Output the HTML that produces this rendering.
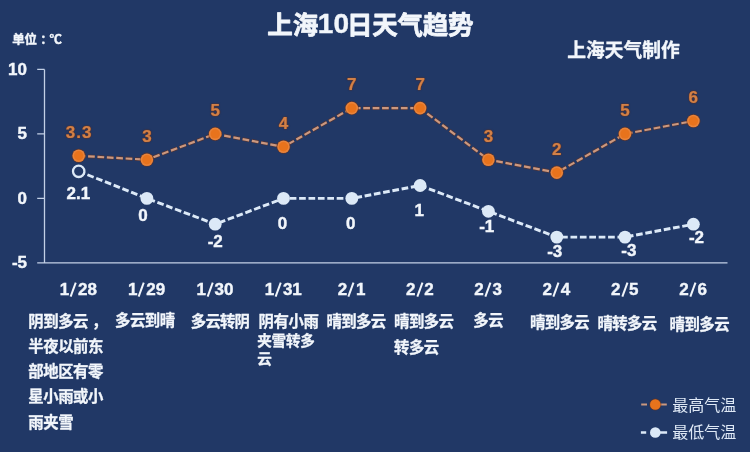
<!DOCTYPE html>
<html lang="zh-CN">
<head>
<meta charset="utf-8">
<title>上海10日天气趋势</title>
<style>
html,body{margin:0;padding:0;background:#213866;}
body{width:750px;height:452px;overflow:hidden;font-family:"Liberation Sans",sans-serif;}
#chart{position:relative;width:750px;height:452px;background:#213866;overflow:hidden;}
#chart>svg,#labels{filter:blur(0.5px);}
#chart svg{position:absolute;left:0;top:0;}
#labels,#textlayer{position:absolute;left:0;top:0;width:750px;height:452px;}
.n{position:absolute;white-space:nowrap;font-weight:bold;line-height:1;-webkit-text-stroke:0.4px currentColor;font-family:"Liberation Sans",sans-serif;}
.sl{display:inline-block;position:relative;margin:0 2px;color:transparent;-webkit-text-stroke:0 transparent;}
.sl::before{content:"";position:absolute;left:50%;top:50%;width:2.4px;height:14.6px;background:#f2f6fb;transform:translate(-50%,-50%) rotate(20deg);}
.t{position:absolute;white-space:nowrap;color:transparent;line-height:1.2;overflow:hidden;font-family:"Liberation Sans",sans-serif;font-weight:bold;}
#cjk text{font-family:"Liberation Sans","Noto Sans CJK SC",sans-serif;}
#cjk .b{font-weight:bold;fill:#f2f6fb;stroke:#f2f6fb;stroke-linejoin:round;}
#cjk .r{font-weight:normal;fill:#dfe9f6;}
</style>
</head>
<body>
<div id="chart">
<svg width="750" height="452" viewBox="0 0 750 452">
<g id="plot">
<path d="M44.5 69.4V263 M44.5 262.9H727.5 M37.2 69.4H44.5 M37.2 133.9H44.5 M37.2 198.4H44.5 M37.2 262.9H44.5" stroke="#c3d0e6" stroke-width="1.3" fill="none"/>
<polyline points="78.7,155.8 146.9,159.7 215.2,133.9 283.5,146.8 351.8,108.1 420.1,108.1 488.4,159.7 556.8,172.6 625.0,133.9 693.4,121.0" fill="none" stroke="rgba(110,50,25,0.6)" stroke-width="3.7" stroke-dasharray="7.1 2.3" stroke-dashoffset="0.2"/>
<polyline points="78.7,155.8 146.9,159.7 215.2,133.9 283.5,146.8 351.8,108.1 420.1,108.1 488.4,159.7 556.8,172.6 625.0,133.9 693.4,121.0" fill="none" stroke="#cb987f" stroke-width="2.2" stroke-dasharray="6.7 2.7"/>
<polyline points="78.7,171.3 146.9,198.4 215.2,224.2 283.5,198.4 351.8,198.4 420.1,185.5 488.4,211.3 556.8,237.1 625.0,237.1 693.4,224.2" fill="none" stroke="#dce9f7" stroke-width="2.9" stroke-dasharray="6.7 2.7"/>
<circle cx="78.7" cy="155.8" r="7.1" fill="rgba(110,50,25,0.6)"/><circle cx="78.7" cy="155.8" r="6.3" fill="#e8833a"/><circle cx="78.7" cy="155.8" r="4.7" fill="#e8731c"/>
<circle cx="146.9" cy="159.7" r="7.1" fill="rgba(110,50,25,0.6)"/><circle cx="146.9" cy="159.7" r="6.3" fill="#e8833a"/><circle cx="146.9" cy="159.7" r="4.7" fill="#e8731c"/>
<circle cx="215.2" cy="133.9" r="7.1" fill="rgba(110,50,25,0.6)"/><circle cx="215.2" cy="133.9" r="6.3" fill="#e8833a"/><circle cx="215.2" cy="133.9" r="4.7" fill="#e8731c"/>
<circle cx="283.5" cy="146.8" r="7.1" fill="rgba(110,50,25,0.6)"/><circle cx="283.5" cy="146.8" r="6.3" fill="#e8833a"/><circle cx="283.5" cy="146.8" r="4.7" fill="#e8731c"/>
<circle cx="351.8" cy="108.1" r="7.1" fill="rgba(110,50,25,0.6)"/><circle cx="351.8" cy="108.1" r="6.3" fill="#e8833a"/><circle cx="351.8" cy="108.1" r="4.7" fill="#e8731c"/>
<circle cx="420.1" cy="108.1" r="7.1" fill="rgba(110,50,25,0.6)"/><circle cx="420.1" cy="108.1" r="6.3" fill="#e8833a"/><circle cx="420.1" cy="108.1" r="4.7" fill="#e8731c"/>
<circle cx="488.4" cy="159.7" r="7.1" fill="rgba(110,50,25,0.6)"/><circle cx="488.4" cy="159.7" r="6.3" fill="#e8833a"/><circle cx="488.4" cy="159.7" r="4.7" fill="#e8731c"/>
<circle cx="556.8" cy="172.6" r="7.1" fill="rgba(110,50,25,0.6)"/><circle cx="556.8" cy="172.6" r="6.3" fill="#e8833a"/><circle cx="556.8" cy="172.6" r="4.7" fill="#e8731c"/>
<circle cx="625.0" cy="133.9" r="7.1" fill="rgba(110,50,25,0.6)"/><circle cx="625.0" cy="133.9" r="6.3" fill="#e8833a"/><circle cx="625.0" cy="133.9" r="4.7" fill="#e8731c"/>
<circle cx="693.4" cy="121.0" r="7.1" fill="rgba(110,50,25,0.6)"/><circle cx="693.4" cy="121.0" r="6.3" fill="#e8833a"/><circle cx="693.4" cy="121.0" r="4.7" fill="#e8731c"/>
<circle cx="78.7" cy="171.3" r="5.7" fill="#213866" stroke="#dce9f7" stroke-width="2.3"/>
<circle cx="146.9" cy="198.4" r="6.4" fill="#dce9f7"/>
<circle cx="215.2" cy="224.2" r="6.4" fill="#dce9f7"/>
<circle cx="283.5" cy="198.4" r="6.4" fill="#dce9f7"/>
<circle cx="351.8" cy="198.4" r="6.4" fill="#dce9f7"/>
<circle cx="420.1" cy="185.5" r="6.4" fill="#dce9f7"/>
<circle cx="488.4" cy="211.3" r="6.4" fill="#dce9f7"/>
<circle cx="556.8" cy="237.1" r="6.4" fill="#dce9f7"/>
<circle cx="625.0" cy="237.1" r="6.4" fill="#dce9f7"/>
<circle cx="693.4" cy="224.2" r="6.4" fill="#dce9f7"/>
<path d="M641.2 404.5H647 M660 404.5H666.8" stroke="#cb987f" stroke-width="2.2" fill="none"/>
<circle cx="655.3" cy="404.5" r="6.1" fill="rgba(110,50,25,0.6)"/><circle cx="655.3" cy="404.5" r="5.3" fill="#e8731c"/>
<path d="M640.9 432.5H646.2 M660 432.5H667.1" stroke="#dce9f7" stroke-width="2.5" fill="none"/>
<circle cx="655.3" cy="432.5" r="5.3" fill="#dce9f7"/>
</g>
<g id="cjk">
<text class="b" x="267.25" y="34.28" font-size="25.5" stroke-width="0.8">上海</text>
<text class="b" x="346.98" y="34.28" font-size="25.5" stroke-width="0.8" letter-spacing="-0.25">日天气趋势</text>
<text class="b" x="567.2" y="56.99" font-size="18.75" stroke-width="0.35">上海天气制作</text>
<text class="b" x="12.2" y="43.85" font-size="12.4" stroke-width="0.4">单位</text>
<text class="b" x="40.35" y="43.85" font-size="12.4" stroke-width="0.4">：</text>
<text class="b" x="49.4" y="43.85" font-size="12.4" stroke-width="0.4">℃</text>
<text class="b" x="28.35" y="326.5" font-size="15.4" stroke-width="0.3" letter-spacing="-0.5">阴到多云</text>
<text class="b" x="92.11" y="326.5" font-size="15.4" stroke-width="0.3">，</text>
<text class="b" x="28.35" y="351.8" font-size="15.4" stroke-width="0.3" letter-spacing="-0.5">半夜以前东</text>
<text class="b" x="28.35" y="377.1" font-size="15.4" stroke-width="0.3" letter-spacing="-0.5">部地区有零</text>
<text class="b" x="28.35" y="402.4" font-size="15.4" stroke-width="0.3" letter-spacing="-0.5">星小雨或小</text>
<text class="b" x="28.35" y="427.8" font-size="15.4" stroke-width="0.3" letter-spacing="-0.5">雨夹雪</text>
<text class="b" x="115.05" y="326.2" font-size="15.4" stroke-width="0.3" letter-spacing="-0.5">多云到晴</text>
<text class="b" x="190.8" y="326.5" font-size="15.4" stroke-width="0.3" letter-spacing="-0.8">多云转阴</text>
<text class="b" x="258.6" y="326.5" font-size="15.4" stroke-width="0.3" letter-spacing="-0.4">阴有小雨</text>
<text class="b" x="257.2" y="345.88" font-size="14.6" stroke-width="0.3" letter-spacing="-0.2">夹雪转多</text>
<text class="b" x="257.2" y="364.48" font-size="14.6" stroke-width="0.3">云</text>
<text class="b" x="326.5" y="327.4" font-size="15.4" stroke-width="0.3" letter-spacing="-0.6">晴到多云</text>
<text class="b" x="394.1" y="327.4" font-size="15.4" stroke-width="0.3" letter-spacing="-0.6">晴到多云</text>
<text class="b" x="394.1" y="353" font-size="15.4" stroke-width="0.3" letter-spacing="-0.6">转多云</text>
<text class="b" x="473.2" y="325.9" font-size="15.4" stroke-width="0.3" letter-spacing="-0.4">多云</text>
<text class="b" x="529.9" y="327.9" font-size="15.4" stroke-width="0.3" letter-spacing="-0.6">晴到多云</text>
<text class="b" x="597.5" y="328.7" font-size="15.4" stroke-width="0.3" letter-spacing="-0.6">晴转多云</text>
<text class="b" x="669.55" y="329.5" font-size="15.4" stroke-width="0.3" letter-spacing="-0.5">晴到多云</text>
<text class="r" x="672.2" y="410.68" font-size="16">最高气温</text>
<text class="r" x="672.2" y="438.48" font-size="16">最低气温</text>
</g>
</svg>
<div id="labels">
<div class="n" style="left:333.40px;top:24.40px;font-size:28.00px;color:#f2f6fb;transform:translate(-50%,-50%);">10</div>
<div class="n" style="left:27.00px;top:68.80px;font-size:17.00px;color:#f2f6fb;transform:translate(-100%,-50%);">10</div>
<div class="n" style="left:27.00px;top:133.30px;font-size:17.00px;color:#f2f6fb;transform:translate(-100%,-50%);">5</div>
<div class="n" style="left:27.00px;top:197.80px;font-size:17.00px;color:#f2f6fb;transform:translate(-100%,-50%);">0</div>
<div class="n" style="left:27.00px;top:262.30px;font-size:17.00px;color:#f2f6fb;transform:translate(-100%,-50%);">-5</div>
<div class="n" style="left:78.35px;top:289.40px;font-size:17.00px;color:#f2f6fb;transform:translate(-50%,-50%);">1<span class="sl">/</span>28</div>
<div class="n" style="left:146.65px;top:289.40px;font-size:17.00px;color:#f2f6fb;transform:translate(-50%,-50%);">1<span class="sl">/</span>29</div>
<div class="n" style="left:214.95px;top:289.40px;font-size:17.00px;color:#f2f6fb;transform:translate(-50%,-50%);">1<span class="sl">/</span>30</div>
<div class="n" style="left:283.25px;top:289.40px;font-size:17.00px;color:#f2f6fb;transform:translate(-50%,-50%);">1<span class="sl">/</span>31</div>
<div class="n" style="left:351.55px;top:289.40px;font-size:17.00px;color:#f2f6fb;transform:translate(-50%,-50%);">2<span class="sl">/</span>1</div>
<div class="n" style="left:419.85px;top:289.40px;font-size:17.00px;color:#f2f6fb;transform:translate(-50%,-50%);">2<span class="sl">/</span>2</div>
<div class="n" style="left:488.15px;top:289.40px;font-size:17.00px;color:#f2f6fb;transform:translate(-50%,-50%);">2<span class="sl">/</span>3</div>
<div class="n" style="left:556.45px;top:289.40px;font-size:17.00px;color:#f2f6fb;transform:translate(-50%,-50%);">2<span class="sl">/</span>4</div>
<div class="n" style="left:624.75px;top:289.40px;font-size:17.00px;color:#f2f6fb;transform:translate(-50%,-50%);">2<span class="sl">/</span>5</div>
<div class="n" style="left:693.05px;top:289.40px;font-size:17.00px;color:#f2f6fb;transform:translate(-50%,-50%);">2<span class="sl">/</span>6</div>
<div class="n" style="left:79.15px;top:131.83px;font-size:17.00px;color:#d18149;transform:translate(-50%,-50%);letter-spacing:1.00px;text-shadow:0 0 1px rgba(115,50,20,.95),0 0 2px rgba(115,50,20,.7),0 0 1px rgba(115,50,20,.9);-webkit-text-stroke:0.2px currentColor;">3.3</div>
<div class="n" style="left:146.95px;top:135.70px;font-size:17.00px;color:#d18149;transform:translate(-50%,-50%);text-shadow:0 0 1px rgba(115,50,20,.95),0 0 2px rgba(115,50,20,.7),0 0 1px rgba(115,50,20,.9);-webkit-text-stroke:0.2px currentColor;">3</div>
<div class="n" style="left:215.25px;top:109.90px;font-size:17.00px;color:#d18149;transform:translate(-50%,-50%);text-shadow:0 0 1px rgba(115,50,20,.95),0 0 2px rgba(115,50,20,.7),0 0 1px rgba(115,50,20,.9);-webkit-text-stroke:0.2px currentColor;">5</div>
<div class="n" style="left:283.55px;top:122.80px;font-size:17.00px;color:#d18149;transform:translate(-50%,-50%);text-shadow:0 0 1px rgba(115,50,20,.95),0 0 2px rgba(115,50,20,.7),0 0 1px rgba(115,50,20,.9);-webkit-text-stroke:0.2px currentColor;">4</div>
<div class="n" style="left:351.85px;top:84.10px;font-size:17.00px;color:#d18149;transform:translate(-50%,-50%);text-shadow:0 0 1px rgba(115,50,20,.95),0 0 2px rgba(115,50,20,.7),0 0 1px rgba(115,50,20,.9);-webkit-text-stroke:0.2px currentColor;">7</div>
<div class="n" style="left:420.15px;top:84.10px;font-size:17.00px;color:#d18149;transform:translate(-50%,-50%);text-shadow:0 0 1px rgba(115,50,20,.95),0 0 2px rgba(115,50,20,.7),0 0 1px rgba(115,50,20,.9);-webkit-text-stroke:0.2px currentColor;">7</div>
<div class="n" style="left:488.45px;top:135.70px;font-size:17.00px;color:#d18149;transform:translate(-50%,-50%);text-shadow:0 0 1px rgba(115,50,20,.95),0 0 2px rgba(115,50,20,.7),0 0 1px rgba(115,50,20,.9);-webkit-text-stroke:0.2px currentColor;">3</div>
<div class="n" style="left:556.75px;top:148.60px;font-size:17.00px;color:#d18149;transform:translate(-50%,-50%);text-shadow:0 0 1px rgba(115,50,20,.95),0 0 2px rgba(115,50,20,.7),0 0 1px rgba(115,50,20,.9);-webkit-text-stroke:0.2px currentColor;">2</div>
<div class="n" style="left:625.05px;top:109.90px;font-size:17.00px;color:#d18149;transform:translate(-50%,-50%);text-shadow:0 0 1px rgba(115,50,20,.95),0 0 2px rgba(115,50,20,.7),0 0 1px rgba(115,50,20,.9);-webkit-text-stroke:0.2px currentColor;">5</div>
<div class="n" style="left:693.35px;top:97.00px;font-size:17.00px;color:#d18149;transform:translate(-50%,-50%);text-shadow:0 0 1px rgba(115,50,20,.95),0 0 2px rgba(115,50,20,.7),0 0 1px rgba(115,50,20,.9);-webkit-text-stroke:0.2px currentColor;">6</div>
<div class="n" style="left:78.30px;top:192.70px;font-size:17.00px;color:#f2f6fb;transform:translate(-50%,-50%);">2.1</div>
<div class="n" style="left:143.00px;top:215.00px;font-size:17.00px;color:#f2f6fb;transform:translate(-50%,-50%);">0</div>
<div class="n" style="left:215.20px;top:240.70px;font-size:17.00px;color:#f2f6fb;transform:translate(-50%,-50%);">-2</div>
<div class="n" style="left:282.40px;top:223.40px;font-size:17.00px;color:#f2f6fb;transform:translate(-50%,-50%);">0</div>
<div class="n" style="left:350.80px;top:223.40px;font-size:17.00px;color:#f2f6fb;transform:translate(-50%,-50%);">0</div>
<div class="n" style="left:419.30px;top:210.20px;font-size:17.00px;color:#f2f6fb;transform:translate(-50%,-50%);">1</div>
<div class="n" style="left:486.70px;top:226.40px;font-size:17.00px;color:#f2f6fb;transform:translate(-50%,-50%);">-1</div>
<div class="n" style="left:554.70px;top:251.40px;font-size:17.00px;color:#f2f6fb;transform:translate(-50%,-50%);">-3</div>
<div class="n" style="left:628.80px;top:249.90px;font-size:17.00px;color:#f2f6fb;transform:translate(-50%,-50%);">-3</div>
<div class="n" style="left:696.50px;top:236.90px;font-size:17.00px;color:#f2f6fb;transform:translate(-50%,-50%);">-2</div>
</div>
<div id="textlayer">
<div class="t" style="left:267.2px;top:9.0px;font-size:25.5px;width:53.0px">上海</div>
<div class="t" style="left:347.1px;top:9.0px;font-size:25.5px;width:128.2px">日天气趋势</div>
<div class="t" style="left:567.2px;top:38.0px;font-size:18.8px;width:114.5px">上海天气制作</div>
<div class="t" style="left:12.2px;top:31.6px;font-size:12.4px;width:51.6px">单位：℃</div>
<div class="t" style="left:28.6px;top:311.1px;font-size:15.4px;width:76.5px">阴到多云，</div>
<div class="t" style="left:28.6px;top:336.4px;font-size:15.4px;width:76.5px">半夜以前东</div>
<div class="t" style="left:28.6px;top:361.7px;font-size:15.4px;width:76.5px">部地区有零</div>
<div class="t" style="left:28.6px;top:387.0px;font-size:15.4px;width:76.5px">星小雨或小</div>
<div class="t" style="left:28.6px;top:412.4px;font-size:15.4px;width:46.7px">雨夹雪</div>
<div class="t" style="left:115.3px;top:310.8px;font-size:15.4px;width:61.6px">多云到晴</div>
<div class="t" style="left:191.2px;top:311.1px;font-size:15.4px;width:60.4px">多云转阴</div>
<div class="t" style="left:258.8px;top:311.1px;font-size:15.4px;width:62.0px">阴有小雨</div>
<div class="t" style="left:257.3px;top:331.2px;font-size:14.6px;width:59.6px">夹雪转多</div>
<div class="t" style="left:257.3px;top:349.8px;font-size:14.6px;width:16.4px">云</div>
<div class="t" style="left:326.8px;top:312.0px;font-size:15.4px;width:61.2px">晴到多云</div>
<div class="t" style="left:394.4px;top:312.0px;font-size:15.4px;width:61.2px">晴到多云</div>
<div class="t" style="left:394.4px;top:337.6px;font-size:15.4px;width:46.4px">转多云</div>
<div class="t" style="left:473.4px;top:310.5px;font-size:15.4px;width:32.0px">多云</div>
<div class="t" style="left:530.2px;top:312.5px;font-size:15.4px;width:61.2px">晴到多云</div>
<div class="t" style="left:597.8px;top:313.3px;font-size:15.4px;width:61.2px">晴转多云</div>
<div class="t" style="left:669.8px;top:314.1px;font-size:15.4px;width:61.6px">晴到多云</div>
<div class="t" style="left:672.2px;top:395.0px;font-size:16.0px;width:66.0px">最高气温</div>
<div class="t" style="left:672.2px;top:422.8px;font-size:16.0px;width:66.0px">最低气温</div>
</div>
</div>
</body>
</html>
